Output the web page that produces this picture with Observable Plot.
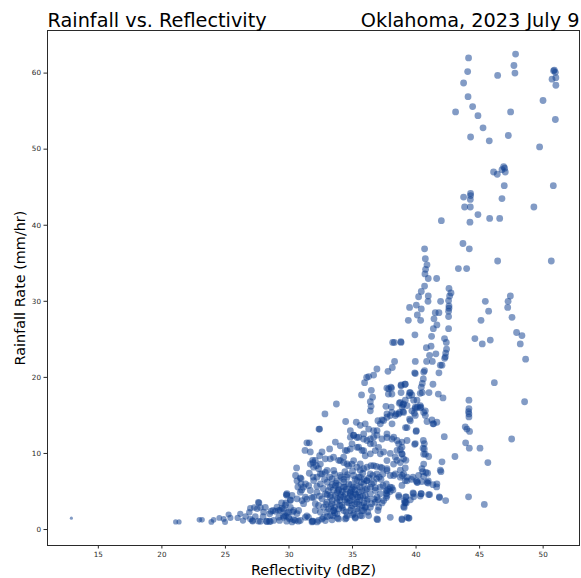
<!DOCTYPE html>
<html>
<head>
<meta charset="utf-8">
<script src="https://cdn.jsdelivr.net/npm/d3@7"></script>
<script src="https://cdn.jsdelivr.net/npm/@observablehq/plot@0.6"></script>
<style>
  body { margin: 0; background: #fff; }
  svg { display: block; }
</style>
</head>
<body>
<div id="chart"></div>
<script>
// Radar reflectivity (dBZ) paired with gauge rainfall rate (mm/hr)
const lightEcho = [
  [12.88,1.49],[21.08,1.0],[21.35,1.0],[22.95,1.27],[23.16,1.27],[23.89,1.0],[24.07,1.27],
  [24.52,1.53],[24.86,1.4],[24.97,1.0],[25.25,1.97],[25.39,1.53],[25.96,1.53],[26.17,2.06],
  [26.38,1.18],[26.59,1.71],[26.88,2.27],[26.96,1.4],[27.14,1.1],[27.35,1.7],[27.49,2.72],
  [27.59,3.59],[27.75,1.05],[27.96,1.71],[28.14,2.93],[28.27,1.05],[28.48,2.06],[28.53,1.05],
  [28.74,2.5],[29.06,2.93],[29.19,1.62],[29.58,2.72],[29.79,4.6],[29.71,1.84],[29.97,2.27],
  [30.05,1.4],[27.64,3.5],[27.75,2.9],[27.27,2.9],[26.96,2.8],[28.0,2.3],[28.59,2.4],
  [28.93,2.4],[29.19,2.5],[29.45,2.8],[29.58,1.8],[29.84,2.2],[30.32,2.3],[30.63,2.1],
  [27.12,1.2],[27.59,1.1],[28.22,1.1],[28.45,1.1],[28.79,1.2],[29.26,1.2],[29.82,1.1],
  [30.37,1.3],[30.74,1.1],[29.82,4.5],[30.11,3.9],[29.77,3.5],[29.42,3.5],[29.84,4.7],
  [29.71,3.2],[30.11,2.9],[30.37,2.5],[30.5,1.2],[30.76,2.5],[29.32,2.5],[29.58,1.6],
  [29.97,1.6],[30.24,1.0],[30.89,1.2]
];

const stratiformCore = [
  [31.15,3.4],[31.41,4.0],[31.81,4.2],[32.07,3.4],[31.28,1.6],[31.54,1.6],[31.81,1.0],
  [32.33,1.2],[32.72,1.6],[32.99,2.3],[33.51,2.5],[33.91,1.4],[34.43,1.4],[35.22,1.6],
  [35.74,2.5],[36.0,2.9],[31.41,1.8],[31.84,1.1],[32.21,1.0],[32.6,1.4],[33.0,1.7],
  [33.47,1.8],[33.82,1.5],[34.51,1.5],[35.22,1.5],[35.74,1.8],[36.03,3.0],[33.39,1.27],
  [32.86,1.18],[31.89,1.1],
  [33.25,5.57],[33.65,5.78],[33.91,5.13],[34.3,5.57],[34.7,6.0],[34.96,5.35],[35.35,5.78],
  [35.74,5.13],[36.14,5.35],[36.4,4.69],[36.0,4.47],[35.61,4.25],[35.22,4.69],[34.83,4.47],
  [34.43,4.69],[34.04,4.25],[33.65,4.47],[33.25,4.25],[32.86,4.69],[32.6,4.03],[33.0,3.6],
  [33.39,3.38],[33.78,3.6],[34.17,3.16],[34.57,3.6],[34.96,3.16],[35.35,3.6],[35.74,3.16],
  [36.14,3.81],[36.4,2.94],[35.88,2.5],[35.35,2.72],[34.83,2.5],[34.3,2.5],[33.91,2.72],
  [33.52,2.5],[33.12,2.72],[32.73,2.94],[32.33,3.16],[32.47,2.28],[32.07,2.5],[33.25,1.84],
  [33.78,2.06],[34.57,1.84],[35.09,2.06],[35.61,1.84],[36.27,1.84],[32.2,4.91],[31.94,4.25],
  [31.68,5.13],[31.55,5.78],[31.15,5.57],[30.89,4.91],[31.29,4.25],[31.02,3.81],[30.63,4.03],
  [30.24,4.47],[30.11,3.81],[34.3,6.22],[33.78,6.44],[33.39,6.66],[35.35,6.44],[35.88,6.0],
  [36.4,5.57],[36.79,5.13],[36.93,4.25],[37.19,4.69],[36.79,3.6],[37.06,2.94],[37.45,3.81],
  [37.71,4.47],
  [34.2,5.0],[34.5,5.3],[34.8,4.9],[34.1,4.6],[34.6,4.1],[35.0,4.3],[34.4,3.9],[33.8,4.9],
  [33.5,5.2],[34.9,5.9],[35.2,5.2],[35.5,4.9],[34.7,3.5],[34.0,3.8],[33.4,3.8],[35.1,3.9],
  [35.4,4.3],[34.3,6.6],[33.9,5.8],[35.6,5.6],[34.2,2.9],[33.6,2.9],[34.9,2.8],[35.5,3.3],
  [36.2,4.0],[36.3,6.8],[35.8,7.4],[35.0,7.7],[34.4,7.6],[33.6,7.3],[33.2,6.9],[32.8,6.6],
  [33.1,5.1],[32.9,3.3],[33.3,3.0],[36.6,7.1],[36.9,6.7],
  [33.7,6.1],[34.1,6.9],[34.6,7.2],[35.2,6.6],[35.7,6.2],[36.0,5.2],[35.8,4.4],[35.3,4.6],
  [34.9,5.1],[34.4,5.6],[33.9,5.3],[33.4,5.9],[33.0,4.6],[32.7,5.4],[32.4,4.4],[32.2,5.7],
  [31.9,6.9],[31.6,7.4],[31.3,6.0],[31.0,5.2],[30.7,5.6],[33.3,4.5],[33.8,4.1],[34.3,4.3],
  [34.8,3.8],[35.2,3.4],[35.6,3.9],[35.9,3.5],[34.0,3.2],[33.6,2.2],[34.5,2.3],[35.0,1.9],
  [35.4,2.4],[36.2,2.3],[36.5,3.4],[36.7,4.0],[37.0,3.9],[36.8,5.5],[37.4,5.8],[37.1,6.9],
  [36.5,6.0],[35.9,6.6],
  [36.13,6.4],[35.48,6.9],[35.09,5.6],[34.83,4.7]
];

const moderateBand = [
  [30.6,8.1],[30.52,7.1],[30.89,6.8],[30.63,6.4],[30.95,6.0],[30.95,6.7],[31.41,11.4],
  [31.6,11.4],[31.26,10.4],[31.68,10.2],[31.89,8.8],[31.68,8.6],[31.86,9.1],[32.15,8.4],
  [32.47,8.6],[32.41,9.7],[33.2,10.6],[32.41,13.2],[32.83,15.2],[34.46,14.2],[32.36,13.2],
  [33.73,16.5],[32.07,9.1],[31.94,8.2],[32.33,8.0],[32.47,7.3],[32.86,7.5],[32.6,10.2],
  [32.86,9.3],[33.25,9.3],[33.51,9.5],[33.91,9.1],[34.3,8.8],[34.69,8.4],[34.95,8.6],
  [35.35,8.2],[35.61,7.8],[35.87,8.0],[33.65,11.5],[34.04,11.0],[34.43,10.4],[34.83,10.6],
  [35.35,10.8],[35.74,10.4],[36.0,9.7],[34.83,13.0],[35.09,12.4],[35.35,12.1],[35.87,11.9],
  [36.4,11.9],[36.92,12.4],[37.32,11.9],[37.71,12.1],[38.1,11.9],[38.5,11.7],[38.89,11.5],
  [35.3,14.1],[35.61,13.7],[36.0,13.9],[36.27,13.2],[36.66,13.0],[37.0,14.3],[37.32,14.4],
  [37.71,15.2],[38.1,15.4],[38.44,15.2],[38.7,15.4],[39.29,16.3],[40.07,17.0],[41.64,14.1],
  [34.83,12.14],[35.09,12.36],[35.48,12.14],[35.88,12.57],[36.14,11.7],[36.4,11.26],
  [36.66,12.14],[36.93,13.01],[37.19,13.89],[37.45,14.33],[37.71,14.76],[37.97,14.98],
  [38.37,14.98],[38.63,15.2],[38.11,13.89],[37.71,12.57],[38.24,12.14],[38.63,11.26],
  [38.89,9.95],[38.37,9.51],[37.71,9.07],[37.19,9.95],[36.79,10.38],[36.4,9.95],[35.88,10.38],
  [35.48,10.82],[34.96,11.26],[34.57,10.38],[34.3,9.51],[34.04,9.07],[34.57,8.63],[35.09,9.07],
  [35.61,8.63],[36.14,8.19],[36.66,8.41],[37.19,8.19],[37.71,7.76],[38.24,7.1],[38.76,6.88],
  [39.15,6.44],[37.97,5.57],[37.66,5.13],[37.19,5.57],[36.66,6.22],[36.14,6.44],[35.61,6.88],
  [35.09,7.1],[34.57,6.88],[34.04,7.1],[33.52,7.76],[33.0,7.76],[32.6,7.32],[32.2,6.88],
  [31.94,6.44],[32.47,6.0],[33.0,6.22],
  [36.97,1.3],[37.0,2.5],[37.32,3.5],[37.66,4.2],[38.89,1.4],[39.41,1.5],[39.23,4.3],
  [39.08,3.8],[39.23,3.5],[41.85,4.2],[38.89,5.8],[38.63,4.5],[38.18,5.2],[37.71,5.1],
  [37.66,6.0],[37.24,6.6],[39.29,6.4],[39.76,6.9],[40.2,7.1],[40.6,7.0],[40.96,6.4],
  [41.33,5.9],[41.64,6.0],[41.91,7.8],[36.92,1.4],[37.97,1.6],[39.29,1.6],[38.65,4.3],
  [39.15,3.6],[39.07,2.9],[37.84,5.3],[38.1,5.5],[37.66,4.7],[37.97,5.0],[40.86,6.2],
  [40.07,6.2],
  [39.29,11.7],[38.89,10.8],[38.5,10.4],[37.97,10.0],[37.45,10.2],[37.05,10.8],[36.66,11.3],
  [39.02,9.3],[38.5,9.1],[38.23,8.6],[37.71,8.0],[37.32,8.1],[36.87,8.3],[36.45,8.4],
  [38.76,7.8],[38.37,7.3],[37.97,7.1],[37.39,7.3],[36.92,7.3],[36.4,7.3]
];

const convectiveBranch = [
  [40.67,36.9],[43.69,37.6],[44.19,36.9],[40.73,35.6],[40.86,34.8],[40.75,34.2],[40.7,33.6],
  [40.96,33.0],[40.67,32.0],[41.62,33.0],[43.33,34.3],[43.98,34.3],[46.42,35.3],[50.64,35.3],
  [42.59,31.7],[42.75,31.1],[42.64,30.7],[42.56,30.1],[42.59,29.4],[40.41,31.3],[40.2,30.6],
  [40.96,30.7],[40.02,29.5],[39.49,29.2],[40.41,29.0],[40.94,30.0],[41.93,30.0],[41.51,28.5],
  [41.8,28.5],[40.1,28.2],[39.39,27.5],[40.36,27.5],[41.41,27.7],[41.64,26.9],[41.36,26.4],
  [42.56,28.0],[42.59,29.1],[42.56,28.7],[42.56,26.4],[39.91,25.6],[41.22,25.4],[42.24,25.1],
  [42.38,24.6],[45.45,30.0],[45.71,28.7],[45.11,27.5],[47.42,30.7],[47.24,30.0],[47.21,29.2],
  [47.55,27.9],[44.63,25.1],[45.21,24.4],[45.84,24.9],[47.91,25.9],[48.33,25.5],[48.2,24.4],
  [48.62,22.4],[40.81,23.9],[41.18,24.1],[42.4,23.7],[42.33,23.2],[42.3,22.7],[42.25,22.5],
  [41.56,23.1],[41.06,22.9],[39.94,22.1],[40.83,22.1],[41.28,22.1],[42.04,21.6],[41.91,21.6],
  [39.89,20.6],[40.67,20.9],[41.8,20.6],[40.57,19.8],[40.49,19.2],[40.41,18.7],[41.33,19.1],
  [46.16,19.3],[48.54,16.8],[44.16,17.0],[44.16,15.9],[44.16,15.2],[44.16,14.8],[44.13,15.5],
  [39.15,19.1],[38.82,19.0],[39.55,18.0],[39.45,17.6],[40.33,17.9],[41.02,18.0],[41.75,17.8],
  [42.12,17.3],[40.33,16.3],[40.38,16.1],[39.94,15.9],[40.73,15.6],[39.81,17.0],[39.02,16.5],
  [39.02,15.4],[43.87,13.5],[44.0,13.2],[44.21,12.9],[47.52,11.9],[42.22,12.2],[43.9,11.4],
  [44.19,10.7],[45.03,10.7],[45.65,8.8],[43.06,9.6],[42.04,8.9],[41.96,7.6],[44.13,4.3],
  [45.37,3.3],[42.33,3.8],[41.83,4.3],[41.62,5.6],[40.99,4.6],[41.07,4.6],[40.39,4.7],
  [40.33,4.4],[39.76,4.8],[39.81,4.3],[39.8,4.7],[40.41,4.7],[39.17,4.3],[39.12,3.5],
  [39.02,3.0],[39.55,3.9],[38.9,1.3],[39.45,1.5],[40.94,6.1],[40.46,6.3],[40.02,6.4],
  [40.12,6.2],[39.63,6.6],[39.29,6.9],[40.52,7.6],[40.91,7.4],[40.6,8.6],[39.15,8.1],
  [39.02,7.3],[38.9,7.1],[40.6,9.9],[40.99,9.6],[40.55,10.7],[40.65,11.3],[40.57,11.7],
  [39.89,11.2],[40.0,12.9],[39.2,9.1],[38.76,8.8],[38.9,9.9],[38.76,10.5],[39.17,13.4],
  [39.49,14.5],[40.86,14.2],[41.33,13.9],[40.73,15.0],[40.6,15.4],[40.33,16.0],[39.94,16.1],
  [39.86,15.3],[38.9,16.1],[38.16,24.6],[38.29,24.6],[38.82,24.6],[38.8,24.7],[38.31,22.1],
  [38.13,21.3],[37.79,20.8],[36.92,21.1],[36.66,20.3],[36.27,20.1],[36.11,20.0],[35.95,19.3],
  [39.94,20.5],[40.6,20.7],[38.02,18.7],[37.84,18.5],[38.82,18.9],[39.13,19.1],[40.49,18.0],
  [35.71,17.7],[36.48,18.3],[36.58,17.4],[37.82,17.8],[38.1,17.8],[38.82,18.0],[39.49,18.0],
  [39.67,17.7],[36.4,16.8],[36.46,16.2],[36.4,15.6],[37.63,16.2],[38.05,16.1],[38.76,16.7],
  [39.15,17.0],[38.68,16.6],[38.97,16.4],[38.97,15.5],[39.67,15.6],[40.1,16.1],[37.7,18.6],
  [38.07,18.6],[40.65,10.6],[40.73,9.9],[40.46,8.0],[40.78,7.5],[39.94,11.3],[40.02,13.0],
  [39.29,13.4],[39.55,14.3],[39.94,15.0],[41.38,13.9],[41.25,14.4]
];

const heavyCells = [
  [44.13,62.0],[47.83,62.5],[47.7,61.0],[47.78,60.0],[44.06,60.2],[46.42,59.7],[50.82,60.3],
  [50.96,60.1],[50.7,59.2],[51.0,59.4],[51.0,58.4],[50.88,60.4],[43.74,58.7],[44.09,56.9],
  [44.45,55.6],[43.11,54.9],[44.87,54.4],[47.44,54.9],[49.99,56.4],[50.96,53.9],[45.27,52.8],
  [44.29,51.6],[45.76,51.1],[47.26,51.8],[49.72,50.3],[46.89,47.7],[46.97,47.5],[46.76,47.3],
  [47.02,47.0],[46.1,47.0],[46.39,46.7],[46.94,45.2],[50.8,45.2],[43.74,43.7],[44.29,44.2],
  [44.29,43.9],[44.27,43.4],[46.76,43.5],[43.82,42.4],[44.27,42.4],[49.27,42.4],[44.87,41.4],
  [41.99,40.6],[44.24,40.4],[45.79,40.9],[46.58,40.9]
];

const xTicks = [15, 20, 25, 30, 35, 40, 45, 50];
const yTicks = [0, 10, 20, 30, 40, 50, 60];
const title = "Rainfall vs. Reflectivity";
const place = "Oklahoma, 2023 July 9";
const xLabel = "Reflectivity (dBZ)";
const yLabel = "Rainfall Rate (mm/hr)";

const samples = [lightEcho, stratiformCore, moderateBand, convectiveBranch, heavyCells]
  .flat()
  .map(([dbz, rate]) => ({dbz, rate}));

const font = "DejaVu Sans, Verdana, sans-serif";
const ink = "#2a2a2a";

const chart = Plot.plot({
  width: 581,
  height: 578,
  marginLeft: 47,
  marginRight: 2,
  marginTop: 30,
  marginBottom: 33,
  style: {fontFamily: font, background: "#fff", color: ink, overflow: "visible"},
  x: {domain: [11.0, 52.86]},
  y: {domain: [-2.1, 65.6]},
  r: {type: "linear", domain: [12, 28.5], range: [1.5, 3.4], clamp: true},
  marks: [
    Plot.dot(samples, {
      x: "dbz", y: "rate", r: "dbz",
      fill: "#104090", fillOpacity: 0.52, stroke: "none", sort: null
    }),
    Plot.frame({stroke: ink, strokeWidth: 1}),
    Plot.axisX({ticks: xTicks, tickSize: 3.5, tickPadding: 3, fontSize: 7.2, label: null, stroke: ink}),
    Plot.axisY({ticks: yTicks, tickSize: 3.5, tickPadding: 3, fontSize: 7.2, label: null, stroke: ink}),
    Plot.text([title], {
      text: d => d, frameAnchor: "top-left", textAnchor: "start", lineAnchor: "middle",
      dy: -9.5, fontSize: 19.3, fill: "#000"
    }),
    Plot.text([place], {
      text: d => d, frameAnchor: "top-right", textAnchor: "end", lineAnchor: "middle",
      dy: -9.5, fontSize: 19.3, fill: "#000"
    }),
    Plot.text([xLabel], {
      text: d => d, frameAnchor: "bottom", textAnchor: "middle", lineAnchor: "middle",
      dy: 24.4, fontSize: 14.4, fill: "#000"
    }),
    Plot.text([yLabel], {
      text: d => d, frameAnchor: "left", textAnchor: "middle", lineAnchor: "middle",
      rotate: -90, dx: -27.6, fontSize: 14.4, fill: "#000"
    })
  ]
});

document.getElementById("chart").append(chart);
</script>
</body>
</html>
